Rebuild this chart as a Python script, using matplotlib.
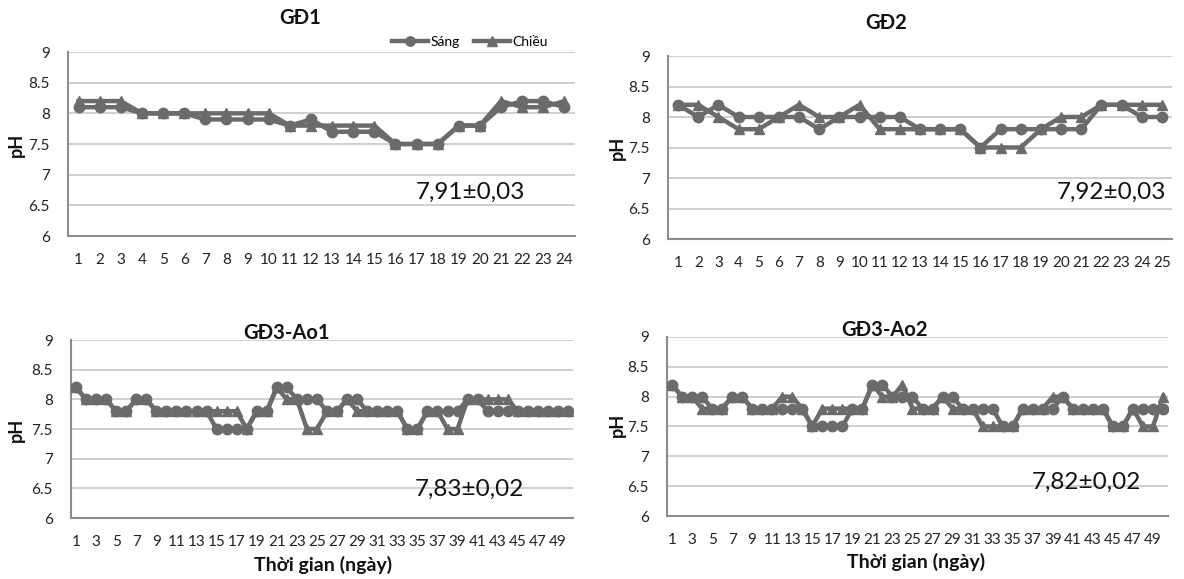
import matplotlib
matplotlib.use("Agg")
import matplotlib.pyplot as plt

plt.rcParams['font.family'] = ['Lato', 'DejaVu Sans']

W, H = 1184, 579

# ---- data ----
gd1_days = list(range(1, 25))
gd1_sang = [8.1, 8.1, 8.1, 8.0, 8.0, 8.0, 7.9, 7.9, 7.9, 7.9, 7.8, 7.9,
            7.7, 7.7, 7.7, 7.5, 7.5, 7.5, 7.8, 7.8, 8.1, 8.2, 8.2, 8.1]
gd1_chieu = [8.2, 8.2, 8.2, 8.0, 8.0, 8.0, 8.0, 8.0, 8.0, 8.0, 7.8, 7.8,
             7.8, 7.8, 7.8, 7.5, 7.5, 7.5, 7.8, 7.8, 8.2, 8.1, 8.1, 8.2]

gd2_days = list(range(1, 26))
gd2_sang = [8.2, 8.0, 8.2, 8.0, 8.0, 8.0, 8.0, 7.8, 8.0, 8.0, 8.0, 8.0,
            7.8, 7.8, 7.8, 7.5, 7.8, 7.8, 7.8, 7.8, 7.8, 8.2, 8.2, 8.0, 8.0]
gd2_chieu = [8.2, 8.2, 8.0, 7.8, 7.8, 8.0, 8.2, 8.0, 8.0, 8.2, 7.8, 7.8,
             7.8, 7.8, 7.8, 7.5, 7.5, 7.5, 7.8, 8.0, 8.0, 8.2, 8.2, 8.2, 8.2]

ao1_days = list(range(1, 51))
ao1_sang = [8.2, 8.0, 8.0, 8.0, 7.8, 7.8, 8.0, 8.0, 7.8, 7.8,
            7.8, 7.8, 7.8, 7.8, 7.5, 7.5, 7.5, 7.5, 7.8, 7.8,
            8.2, 8.2, 8.0, 8.0, 8.0, 7.8, 7.8, 8.0, 8.0, 7.8,
            7.8, 7.8, 7.8, 7.5, 7.5, 7.8, 7.8, 7.8, 7.8, 8.0,
            8.0, 7.8, 7.8, 7.8, 7.8, 7.8, 7.8, 7.8, 7.8, 7.8]
ao1_chieu = [8.2, 8.0, 8.0, 8.0, 7.8, 7.8, 8.0, 8.0, 7.8, 7.8,
             7.8, 7.8, 7.8, 7.8, 7.8, 7.8, 7.8, 7.5, 7.8, 7.8,
             8.2, 8.0, 8.0, 7.5, 7.5, 7.8, 7.8, 8.0, 7.8, 7.8,
             7.8, 7.8, 7.8, 7.5, 7.5, 7.8, 7.8, 7.5, 7.5, 8.0,
             8.0, 8.0, 8.0, 8.0, 7.8, 7.8, 7.8, 7.8, 7.8, 7.8]

ao2_days = list(range(1, 51))
ao2_sang = [8.2, 8.0, 8.0, 8.0, 7.8, 7.8, 8.0, 8.0, 7.8, 7.8,
            7.8, 7.8, 7.8, 7.8, 7.5, 7.5, 7.5, 7.5, 7.8, 7.8,
            8.2, 8.2, 8.0, 8.0, 8.0, 7.8, 7.8, 8.0, 8.0, 7.8,
            7.8, 7.8, 7.8, 7.5, 7.5, 7.8, 7.8, 7.8, 7.8, 8.0,
            7.8, 7.8, 7.8, 7.8, 7.5, 7.5, 7.8, 7.8, 7.8, 7.8]
ao2_chieu = [8.2, 8.0, 8.0, 7.8, 7.8, 7.8, 8.0, 8.0, 7.8, 7.8,
             7.8, 8.0, 8.0, 7.8, 7.5, 7.8, 7.8, 7.8, 7.8, 7.8,
             8.2, 8.0, 8.0, 8.2, 7.8, 7.8, 7.8, 8.0, 7.8, 7.8,
             7.8, 7.5, 7.5, 7.5, 7.5, 7.8, 7.8, 7.8, 8.0, 8.0,
             7.8, 7.8, 7.8, 7.8, 7.5, 7.5, 7.8, 7.5, 7.5, 8.0]

titles = ["GĐ1", "GĐ2", "GĐ3-Ao1", "GĐ3-Ao2"]
stats = ["7,91±0,03", "7,92±0,03", "7,83±0,02", "7,82±0,02"]
yticks = [6, 6.5, 7, 7.5, 8, 8.5, 9]
ytick_labels = ["6", "6.5", "7", "7.5", "8", "8.5", "9"]

LINE = "#6b6b6b"
GRID = "#cccccc"
SPINE = "#8c8c8c"

fig = plt.figure(figsize=(W / 100, H / 100), dpi=100)


def px(x, y):
    return x / W, 1 - y / H


def make_axes(l, t, r, b):
    return fig.add_axes([l / W, 1 - b / H, (r - l) / W, (b - t) / H])


panels = [
    dict(box=(68, 52, 575, 236), days=gd1_days, s=gd1_sang, c=gd1_chieu, step=1),
    dict(box=(668, 56, 1172, 239), days=gd2_days, s=gd2_sang, c=gd2_chieu, step=1),
    dict(box=(71, 340, 573, 518), days=ao1_days, s=ao1_sang, c=ao1_chieu, step=2),
    dict(box=(667, 337, 1168, 516), days=ao2_days, s=ao2_sang, c=ao2_chieu, step=2),
]

for p in panels:
    ax = make_axes(*p["box"])
    days = p["days"]
    lc, = ax.plot(days, p["c"], color=LINE, lw=3.2, marker="^", ms=7.5,
                  label="Chiều", zorder=3)
    ls, = ax.plot(days, p["s"], color=LINE, lw=3.2, marker="o", ms=7.5,
                  label="Sáng", zorder=4)
    p["handles"] = (ls, lc)
    ax.set_xlim(0.5, len(days) + 0.5)
    ax.set_ylim(6, 9)
    ax.set_yticks(yticks)
    ax.set_yticklabels(ytick_labels)
    ticks = days[::p["step"]]
    ax.set_xticks(ticks)
    ax.set_xticklabels([str(d) for d in ticks])
    ax.grid(axis="y", color=GRID, lw=1.3)
    ax.set_axisbelow(True)
    for sp in ("top", "right"):
        ax.spines[sp].set_visible(False)
    for sp in ("left", "bottom"):
        ax.spines[sp].set_color(SPINE)
        ax.spines[sp].set_linewidth(1.5)
    ax.tick_params(axis="both", length=0, labelsize=11, colors="#222222")
    ax.tick_params(axis="x", pad=12)
    ax.tick_params(axis="y", pad=13)

# titles
title_pos = [(300, 18), (886, 23), (286, 333), (884, 330)]
for t, (x, y) in zip(titles, title_pos):
    fig.text(*px(x, y), t, ha="center", va="center", fontsize=14.5,
             fontweight="bold", color="#111111")

# pH labels
ph_pos = [(16, 145), (617, 148), (16, 430), (617, 425)]
for (x, y) in ph_pos:
    fig.text(*px(x, y), "pH", ha="center", va="center", rotation=90,
             fontsize=13, fontweight="bold", color="#111111")

# stats annotations
stat_pos = [(470, 192), (1111, 192), (469, 489), (1086, 482)]
for s, (x, y) in zip(stats, stat_pos):
    fig.text(*px(x, y), s, ha="center", va="center", fontsize=17.5,
             color="#111111")

# x labels
for (x, y) in [(323, 565), (916, 562)]:
    fig.text(*px(x, y), "Thời gian (ngày)", ha="center", va="center",
             fontsize=14, fontweight="bold", color="#111111")

# legend for GĐ1
ls, lc = panels[0]["handles"]
fig.legend([ls, lc], ["Sáng", "Chiều"], loc="center", bbox_to_anchor=px(470, 42),
           ncol=2, frameon=False, fontsize=10, handlelength=2.6,
           handletextpad=0.2, columnspacing=1.0, markerscale=0.9)

fig.savefig("out.png", dpi=100, facecolor="white")
